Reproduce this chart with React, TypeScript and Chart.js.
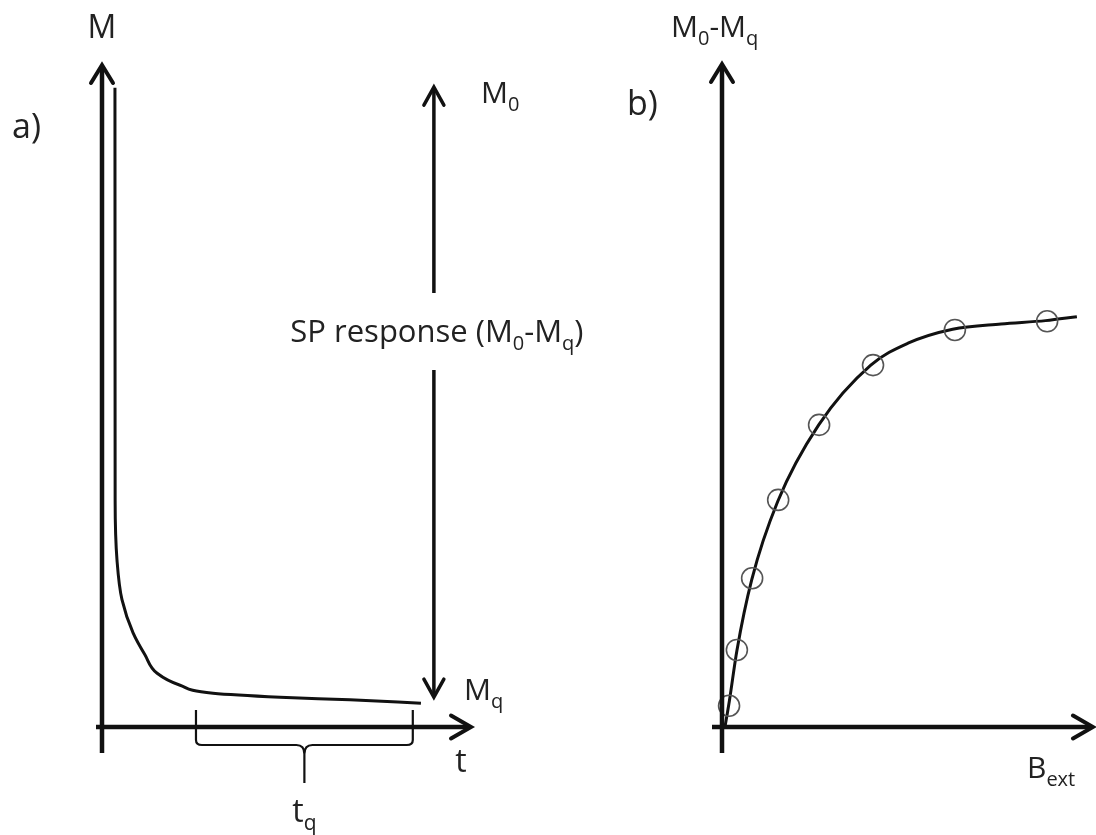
import React, { useEffect, useRef } from "react";
import { Chart, registerables } from "chart.js";
Chart.register(...registerables);

// Panel a: magnetisation decay M(t)
const decayT = [3.5, 3.52, 3.55, 4.05, 5.4, 8.4, 11.6, 14.9, 21.1, 30, 48.1, 67, 86.2];
const decayM = [96.4, 64.3, 34.2, 25.2, 19.2, 14.2, 10.9, 8.1, 6.3, 5.1, 4.5, 4.1, 3.6];
const M0_LEVEL = 96.5;
const MQ_LEVEL = 4.5;
const SP_T = 89.7;
const TQ_RANGE = [25.4, 84];

// Panel b: SP response vs external field
const bField = [1.9, 4.0, 8.1, 15.1, 26.1, 40.6, 62.6, 87.4];
const bResp = [3.2, 11.6, 22.4, 34.2, 45.5, 54.5, 59.8, 61.1];
const fitB = [0.8, 2.0, 4.0, 8.0, 15.0, 26.0, 40.0, 50.0, 62.0, 75.0, 87.0, 95.4];
const fitR = [0, 4.0, 11.5, 22.2, 34.0, 45.5, 54.5, 57.8, 59.9, 60.7, 61.2, 61.8];

const FONT = '"Open Sans", "DejaVu Sans", sans-serif';
const INK = "#111111";

type Part = [string, boolean];

function drawRich(ctx: CanvasRenderingContext2D, parts: Part[], x: number, y: number, align: "left" | "center", size: number) {
  const main = `${size}px ${FONT}`;
  const sub = `${Math.round(size * 0.66)}px ${FONT}`;
  const widths = parts.map(([t, s]) => {
    ctx.font = s ? sub : main;
    return ctx.measureText(t).width;
  });
  const total = widths.reduce((a, b) => a + b, 0);
  let cx = align === "center" ? x - total / 2 : x;
  ctx.save();
  ctx.fillStyle = "#222";
  ctx.textBaseline = "alphabetic";
  ctx.textAlign = "left";
  parts.forEach(([t, s], i) => {
    ctx.font = s ? sub : main;
    ctx.fillText(t, cx, s ? y + size * 0.25 : y);
    cx += widths[i];
  });
  ctx.restore();
}

function chevron(ctx: CanvasRenderingContext2D, tx: number, ty: number, dir: "up" | "down" | "right", len: number, half: number, lw: number) {
  ctx.save();
  ctx.strokeStyle = INK;
  ctx.lineWidth = lw;
  ctx.lineCap = "round";
  ctx.lineJoin = "miter";
  ctx.beginPath();
  if (dir === "up") {
    ctx.moveTo(tx - half, ty + len);
    ctx.lineTo(tx, ty);
    ctx.lineTo(tx + half, ty + len);
  } else if (dir === "down") {
    ctx.moveTo(tx - half, ty - len);
    ctx.lineTo(tx, ty);
    ctx.lineTo(tx + half, ty - len);
  } else {
    ctx.moveTo(tx - len, ty - half);
    ctx.lineTo(tx, ty);
    ctx.lineTo(tx - len, ty + half);
  }
  ctx.stroke();
  ctx.restore();
}

function line(ctx: CanvasRenderingContext2D, x1: number, y1: number, x2: number, y2: number, lw: number) {
  ctx.save();
  ctx.strokeStyle = INK;
  ctx.lineWidth = lw;
  ctx.beginPath();
  ctx.moveTo(x1, y1);
  ctx.lineTo(x2, y2);
  ctx.stroke();
  ctx.restore();
}

const panelAPlugin = {
  id: "panelA",
  afterDraw(chart: any) {
    const ctx: CanvasRenderingContext2D = chart.ctx;
    const xs = chart.scales.x;
    const ys = chart.scales.y;
    const x0 = xs.getPixelForValue(0);
    const y0 = ys.getPixelForValue(0);
    const xEnd = xs.getPixelForValue(100);
    const yTop = ys.getPixelForValue(100);
    // axes
    line(ctx, x0, y0 + 26, x0, yTop + 2, 4.5);
    chevron(ctx, x0, yTop + 1, "up", 18, 11, 4);
    line(ctx, x0 - 6, y0, xEnd - 2, y0, 4.5);
    chevron(ctx, xEnd - 1, y0, "right", 20, 11.5, 4);
    // SP response double arrow
    const sx = xs.getPixelForValue(SP_T);
    const yM0 = ys.getPixelForValue(M0_LEVEL);
    const yMq = ys.getPixelForValue(MQ_LEVEL);
    line(ctx, sx, yM0 + 2, sx, 293, 3.5);
    line(ctx, sx, 370, sx, yMq - 2, 3.5);
    chevron(ctx, sx, yM0, "up", 18, 10, 3.5);
    chevron(ctx, sx, yMq, "down", 18, 10, 3.5);
    // bracket t_q
    const xl = xs.getPixelForValue(TQ_RANGE[0]);
    const xr = xs.getPixelForValue(TQ_RANGE[1]);
    const xm = (xl + xr) / 2;
    const yb = y0 + 18;
    ctx.save();
    ctx.strokeStyle = INK;
    ctx.lineWidth = 2.2;
    ctx.beginPath();
    ctx.moveTo(xl, y0 - 17);
    ctx.lineTo(xl, yb - 5);
    ctx.quadraticCurveTo(xl, yb, xl + 6, yb);
    ctx.lineTo(xm - 8, yb);
    ctx.quadraticCurveTo(xm, yb, xm, yb + 9);
    ctx.lineTo(xm, yb + 38);
    ctx.moveTo(xm, yb + 9);
    ctx.quadraticCurveTo(xm, yb, xm + 8, yb);
    ctx.lineTo(xr - 6, yb);
    ctx.quadraticCurveTo(xr, yb, xr, yb - 5);
    ctx.lineTo(xr, y0 - 17);
    ctx.stroke();
    ctx.restore();
    // labels
    drawRich(ctx, [["M", false]], x0, 38, "center", 32);
    drawRich(ctx, [["a)", false]], 12, 138, "left", 34);
    drawRich(ctx, [["M", false], ["0", true]], 481, 103, "left", 30);
    drawRich(ctx, [["SP response (M", false], ["0", true], ["-M", false], ["q", true], [")", false]], sx + 3, 342, "center", 31);
    drawRich(ctx, [["M", false], ["q", true]], 464, 700, "left", 30);
    drawRich(ctx, [["t", false]], 461, 772, "center", 32);
    drawRich(ctx, [["t", false], ["q", true]], xm, 822, "center", 32);
  },
};

const panelBPlugin = {
  id: "panelB",
  afterDraw(chart: any) {
    const ctx: CanvasRenderingContext2D = chart.ctx;
    const xs = chart.scales.x;
    const ys = chart.scales.y;
    const x0 = xs.getPixelForValue(0);
    const y0 = ys.getPixelForValue(0);
    const xEnd = xs.getPixelForValue(100);
    const yTop = ys.getPixelForValue(100);
    line(ctx, x0, y0 + 26, x0, yTop + 2, 4.5);
    chevron(ctx, x0, yTop + 1, "up", 18, 11, 4);
    line(ctx, x0 - 10, y0, xEnd - 2, y0, 4.5);
    chevron(ctx, xEnd - 1, y0, "right", 20, 11.5, 4);
    drawRich(ctx, [["b)", false]], 67, 115, "left", 34);
    drawRich(ctx, [["M", false], ["0", true], ["-M", false], ["q", true]], 111, 37, "left", 30);
    drawRich(ctx, [["B", false], ["ext", true]], 467, 778, "left", 30);
  },
};

export default function App() {
  const refA = useRef<HTMLCanvasElement>(null);
  const refB = useRef<HTMLCanvasElement>(null);

  useEffect(() => {
    const hidden = { type: "linear" as const, min: 0, max: 100, display: false };
    const chartA = new Chart(refA.current!, {
      type: "scatter",
      data: {
        datasets: [
          {
            data: decayT.map((t, i) => ({ x: t, y: decayM[i] })),
            showLine: true,
            pointRadius: 0,
            borderColor: INK,
            borderWidth: 3,
            indexAxis: "y",
            cubicInterpolationMode: "monotone",
            clip: false as any,
          } as any,
        ],
      },
      options: {
        responsive: false,
        animation: false,
        layout: { autoPadding: false, padding: { left: 102, right: 148, top: 64, bottom: 108 } },
        plugins: { legend: { display: false }, tooltip: { enabled: false } },
        scales: { x: hidden, y: hidden },
      },
      plugins: [panelAPlugin],
    });
    const chartB = new Chart(refB.current!, {
      type: "scatter",
      data: {
        datasets: [
          {
            data: bField.map((b, i) => ({ x: b, y: bResp[i] })),
            showLine: false,
            pointRadius: 10.5,
            pointStyle: "circle",
            pointBorderColor: "#555",
            pointBackgroundColor: "rgba(0,0,0,0)",
            pointBorderWidth: 1.6,
            clip: false as any,
          },
          {
            data: fitB.map((b, i) => ({ x: b, y: fitR[i] })),
            showLine: true,
            pointRadius: 0,
            borderColor: INK,
            borderWidth: 3,
            cubicInterpolationMode: "monotone",
            clip: false as any,
          },
        ],
      },
      options: {
        responsive: false,
        animation: false,
        layout: { autoPadding: false, padding: { left: 162, right: 2, top: 63, bottom: 108 } },
        plugins: { legend: { display: false }, tooltip: { enabled: false } },
        scales: { x: hidden, y: hidden },
      },
      plugins: [panelBPlugin],
    });
    return () => {
      chartA.destroy();
      chartB.destroy();
    };
  }, []);

  return (
    <div style={{ position: "absolute", left: 0, top: 0, width: 1096, height: 835, background: "#fff", overflow: "hidden" }}>
      <canvas ref={refA} width={620} height={835} style={{ position: "absolute", left: 0, top: 0, width: 620, height: 835 }} />
      <canvas ref={refB} width={536} height={835} style={{ position: "absolute", left: 560, top: 0, width: 536, height: 835 }} />
    </div>
  );
}
